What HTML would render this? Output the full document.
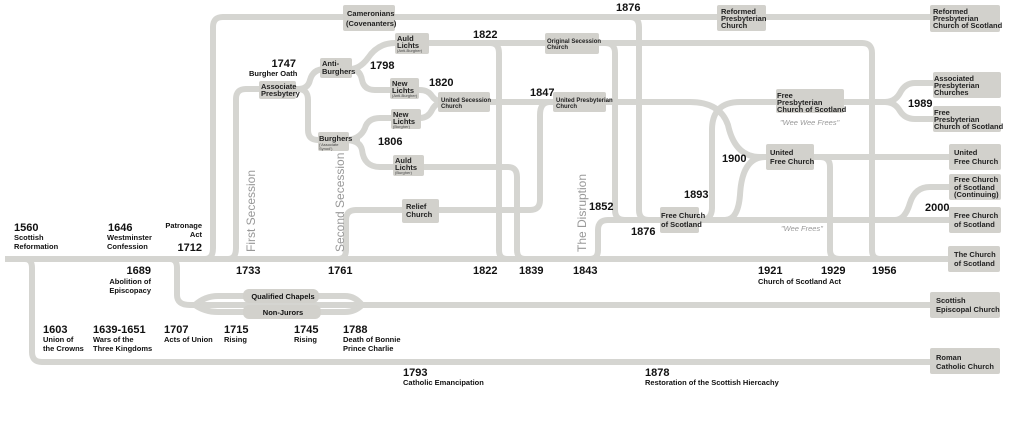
<!DOCTYPE html>
<html><head><meta charset="utf-8"><style>
html,body{margin:0;padding:0;background:#fff;width:1024px;height:422px;overflow:hidden}
svg{display:block}
text{font-family:"Liberation Sans",Arial,sans-serif;fill:#111}
.y{font-size:11px;font-weight:bold}
.l{font-size:7.5px;font-weight:bold}
.b{font-size:7.5px;fill:#222;font-weight:bold}
.s{font-size:4px;fill:#444}
.v{font-size:12px;fill:#999}
.w{font-size:7.5px;fill:#999;font-style:italic}
</style></head><body>
<svg width="1024" height="422" viewBox="0 0 1024 422">
<g fill="none" stroke="#d5d5d1" stroke-width="6" stroke-linejoin="round">
<path d="M5 259 H950"/>
<path d="M25 259 Q32 259 32 268 V352 Q32 362 42 362 H935"/>
<path d="M170 259 Q177 259 177 268 V295 Q177 305 190 305 H935"/>
<path d="M195 305 Q205 296 218 296 H345 Q355 296 362 305"/>
<path d="M195 305 Q205 312 218 312 H345 Q355 312 362 305"/>
<path d="M205 259 Q213 259 213 248 V27 Q213 17 223 17 H935"/>
<path d="M630 17 Q639 17 639 27 V210 Q639 220 649 220"/>
<path d="M228 259 Q236 259 236 248 V99 Q236 89 246 89 H300"/>
<path d="M298 89 Q308 89 310 80 Q313 69 325 69 H360"/>
<path d="M298 89 Q308 89 308 100 V130 Q308 140 318 140 H360"/>
<path d="M350 69 Q360 69 368 58 Q378 43 395 43 H862 Q872 43 872 53 V250 Q872 259 880 259"/>
<path d="M350 69 Q360 69 362 80 Q364 90 375 90 H420 Q428 90 432 96 Q436 102 445 102 H690 Q720 102 728 125 Q735 157 760 157 H950"/>
<path d="M345 140 Q360 140 365 128 Q368 118 380 118 H420 Q428 118 432 110 Q436 102 445 102"/>
<path d="M345 140 Q360 140 362 150 Q364 167 380 167 H508 Q517 167 517 177 V250 Q517 259 525 259"/>
<path d="M490 43 Q499 43 499 53 V250 Q499 259 507 259"/>
<path d="M605 43 Q615 43 615 53 V210 Q615 220 625 220"/>
<path d="M338 259 Q346 259 346 250 V220 Q346 210 356 210 H530 Q540 210 540 200 V115 Q540 102 550 102"/>
<path d="M590 259 Q598 259 598 250 V230 Q598 220 608 220 H955"/>
<path d="M700 220 Q712 220 712 208 V130 Q712 102 740 102 H890"/>
<path d="M725 220 Q738 220 740 195 Q742 157 765 157"/>
<path d="M885 102 Q895 102 900 93 Q905 83 915 83 H940"/>
<path d="M885 102 Q895 102 900 111 Q905 119 915 119 H940"/>
<path d="M895 220 Q905 220 910 203 Q915 187 930 187 H955"/>
<path d="M820 157 Q830 157 830 167 V250 Q830 259 840 259"/>
</g>
<g fill="#d2d1cc">
<rect x="343" y="5" width="52" height="26" rx="2"/>
<rect x="717" y="5" width="49" height="26" rx="2"/>
<rect x="930" y="5" width="70" height="27" rx="2"/>
<rect x="395" y="33" width="34" height="21" rx="2"/>
<rect x="545" y="33" width="54" height="21" rx="2"/>
<rect x="320" y="58" width="32" height="20" rx="2"/>
<rect x="259" y="81" width="37" height="18" rx="2"/>
<rect x="390" y="78" width="29" height="21" rx="2"/>
<rect x="438" y="92" width="52" height="20" rx="2"/>
<rect x="553" y="92" width="53" height="20" rx="2"/>
<rect x="391" y="109" width="30" height="20" rx="2"/>
<rect x="318" y="132" width="31" height="19" rx="2"/>
<rect x="393" y="155" width="31" height="21" rx="2"/>
<rect x="402" y="199" width="37" height="24" rx="2"/>
<rect x="660" y="207" width="39" height="26" rx="2"/>
<rect x="776" y="89" width="68" height="24" rx="2"/>
<rect x="766" y="144" width="48" height="26" rx="2"/>
<rect x="933" y="72" width="68" height="26" rx="2"/>
<rect x="933" y="106" width="68" height="26" rx="2"/>
<rect x="949" y="144" width="52" height="26" rx="2"/>
<rect x="949" y="174" width="52" height="26" rx="2"/>
<rect x="949" y="207" width="52" height="26" rx="2"/>
<rect x="948" y="246" width="52" height="26" rx="2"/>
<rect x="930" y="292" width="70" height="26" rx="2"/>
<rect x="930" y="348" width="70" height="26" rx="2"/>
<rect x="243" y="289" width="76" height="14" rx="6"/>
<rect x="243" y="305" width="78" height="14" rx="6"/>
</g>
<text class="b" x="347" y="16">Cameronians</text><text class="b" x="346" y="26">(Covenanters)</text>
<text class="b" x="721" y="14">Reformed</text><text class="b" x="721" y="21">Presbyterian</text><text class="b" x="721" y="28">Church</text>
<text class="b" x="933" y="14">Reformed</text><text class="b" x="933" y="21">Presbyterian</text><text class="b" x="933" y="28">Church of Scotland</text>
<text class="b" x="397" y="41">Auld</text><text class="b" x="397" y="48">Lichts</text><text class="s" x="397" y="52">(Anti-Burgher)</text>
<text class="b" x="547" y="43" style="font-size:6px">Original Secession</text><text class="b" x="547" y="49" style="font-size:6px">Church</text>
<text class="b" x="322" y="66">Anti-</text><text class="b" x="322" y="74">Burghers</text>
<text class="b" x="261" y="89">Associate</text><text class="b" x="261" y="96">Presbytery</text>
<text class="b" x="392" y="86">New</text><text class="b" x="392" y="93">Lichts</text><text class="s" x="392" y="97">(Anti-Burgher)</text>
<text class="b" x="441" y="102" style="font-size:6px">United Secession</text><text class="b" x="441" y="108" style="font-size:6px">Church</text>
<text class="b" x="556" y="102" style="font-size:6px">United Presbyterian</text><text class="b" x="556" y="108" style="font-size:6px">Church</text>
<text class="b" x="393" y="117">New</text><text class="b" x="393" y="124">Lichts</text><text class="s" x="393" y="128">(Burgher)</text>
<text class="b" x="319" y="141">Burghers</text><text class="s" x="319" y="146">('Associate</text><text class="s" x="319" y="150">Synod')</text>
<text class="b" x="395" y="163">Auld</text><text class="b" x="395" y="170">Lichts</text><text class="s" x="395" y="174">(Burgher)</text>
<text class="b" x="406" y="209">Relief</text><text class="b" x="406" y="217">Church</text>
<text class="b" x="661" y="218">Free Church</text><text class="b" x="661" y="227">of Scotland</text>
<text class="b" x="777" y="98">Free</text><text class="b" x="777" y="105">Presbyterian</text><text class="b" x="777" y="112">Church of Scotland</text>
<text class="w" x="780" y="125">"Wee Wee Frees"</text>
<text class="b" x="770" y="155">United</text><text class="b" x="770" y="164">Free Church</text>
<text class="b" x="934" y="81">Associated</text><text class="b" x="934" y="88">Presbyterian</text><text class="b" x="934" y="95">Churches</text>
<text class="b" x="934" y="115">Free</text><text class="b" x="934" y="122">Presbyterian</text><text class="b" x="934" y="129">Church of Scotland</text>
<text class="b" x="954" y="155">United</text><text class="b" x="954" y="164">Free Church</text>
<text class="b" x="954" y="182">Free Church</text><text class="b" x="954" y="190">of Scotland</text><text class="b" x="954" y="197">(Continuing)</text>
<text class="b" x="954" y="218">Free Church</text><text class="b" x="954" y="227">of Scotland</text>
<text class="w" x="781" y="231">"Wee Frees"</text>
<text class="b" x="954" y="257">The Church</text><text class="b" x="954" y="266">of Scotland</text>
<text class="b" x="936" y="303">Scottish</text><text class="b" x="936" y="312">Episcopal Church</text>
<text class="b" x="936" y="360">Roman</text><text class="b" x="936" y="369">Catholic Church</text>
<text class="l" x="283" y="299" text-anchor="middle">Qualified Chapels</text>
<text class="l" x="283" y="315" text-anchor="middle">Non-Jurors</text>
<text class="v" transform="translate(255,252) rotate(-90)">First Secession</text>
<text class="v" transform="translate(344,252) rotate(-90)">Second Secession</text>
<text class="v" transform="translate(586,252) rotate(-90)">The Disruption</text>
<text class="y" x="14" y="231">1560</text><text class="l" x="14" y="240">Scottish</text><text class="l" x="14" y="249">Reformation</text>
<text class="y" x="108" y="231">1646</text><text class="l" x="107" y="240">Westminster</text><text class="l" x="107" y="249">Confession</text>
<text class="l" x="202" y="228" text-anchor="end">Patronage</text><text class="l" x="202" y="237" text-anchor="end">Act</text>
<text class="y" x="202" y="251" text-anchor="end">1712</text>
<text class="y" x="296" y="67" text-anchor="end">1747</text><text class="l" x="249" y="76">Burgher Oath</text>
<text class="y" x="370" y="69">1798</text>
<text class="y" x="429" y="86">1820</text>
<text class="y" x="378" y="145">1806</text>
<text class="y" x="473" y="38">1822</text>
<text class="y" x="530" y="96">1847</text>
<text class="y" x="616" y="11">1876</text>
<text class="y" x="589" y="210">1852</text>
<text class="y" x="631" y="235">1876</text>
<text class="y" x="684" y="198">1893</text>
<text class="y" x="722" y="162">1900</text>
<text class="y" x="908" y="107">1989</text>
<text class="y" x="925" y="211">2000</text>
<text class="y" x="236" y="274">1733</text>
<text class="y" x="328" y="274">1761</text>
<text class="y" x="473" y="274">1822</text>
<text class="y" x="519" y="274">1839</text>
<text class="y" x="573" y="274">1843</text>
<text class="y" x="758" y="274">1921</text><text class="l" x="758" y="284">Church of Scotland Act</text>
<text class="y" x="821" y="274">1929</text>
<text class="y" x="872" y="274">1956</text>
<text class="y" x="151" y="274" text-anchor="end">1689</text><text class="l" x="151" y="284" text-anchor="end">Abolition of</text><text class="l" x="151" y="293" text-anchor="end">Episcopacy</text>
<text class="y" x="43" y="333">1603</text><text class="l" x="43" y="342">Union of</text><text class="l" x="43" y="351">the Crowns</text>
<text class="y" x="93" y="333">1639-1651</text><text class="l" x="93" y="342">Wars of the</text><text class="l" x="93" y="351">Three Kingdoms</text>
<text class="y" x="164" y="333">1707</text><text class="l" x="164" y="342">Acts of Union</text>
<text class="y" x="224" y="333">1715</text><text class="l" x="224" y="342">Rising</text>
<text class="y" x="294" y="333">1745</text><text class="l" x="294" y="342">Rising</text>
<text class="y" x="343" y="333">1788</text><text class="l" x="343" y="342">Death of Bonnie</text><text class="l" x="343" y="351">Prince Charlie</text>
<text class="y" x="403" y="376">1793</text><text class="l" x="403" y="385">Catholic Emancipation</text>
<text class="y" x="645" y="376">1878</text><text class="l" x="645" y="385">Restoration of the Scottish Hiercachy</text>
</svg>
</body></html>
